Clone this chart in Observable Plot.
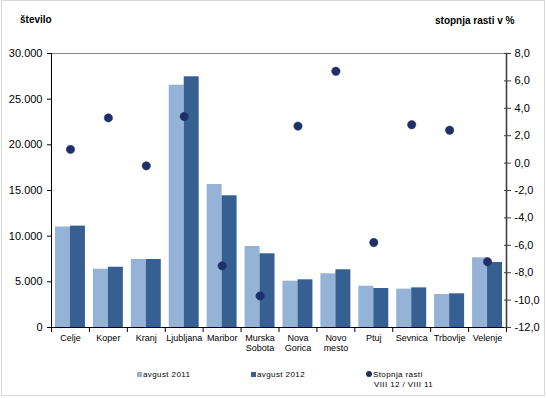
<!DOCTYPE html>
<html>
<head>
<meta charset="utf-8">
<script src="https://cdn.jsdelivr.net/npm/d3@7"></script>
<script src="https://cdn.jsdelivr.net/npm/@observablehq/plot@0.6"></script>
<style>
  body { margin: 0; background: #fff; font-family: "Liberation Sans", Arial, sans-serif; }
  #wrap { position: relative; width: 546px; height: 398px; overflow: hidden; }
  #border { position: absolute; left: 1px; top: 0px; width: 542px; height: 394px; border: 1px solid #d9d9d9; }
  .title { position: absolute; font-weight: bold; font-size: 10px; color: #000; white-space: nowrap; }
  .leg { position: absolute; font-size: 8px; letter-spacing: 0.4px; color: #000; white-space: nowrap; line-height: 10px; }
  .sw { display: inline-block; width: 5px; height: 5px; margin-right: 1px; vertical-align: 0px; }
  .dot { display: inline-block; width: 6px; height: 6px; border-radius: 50%; margin-right: 1px; vertical-align: 0px; }
  svg { position: absolute; left: 0; top: 0; }
</style>
</head>
<body>
<div id="wrap">
  <div id="border"></div>
  <div class="title" style="left:20px; top:14px;">število</div>
  <div class="title" style="left:435px; top:15px;">stopnja rasti v %</div>
  <div class="leg" style="left:137px; top:370px;"><span class="sw" style="background:#95b3d7"></span>avgust 2011</div>
  <div class="leg" style="left:251px; top:370px;"><span class="sw" style="background:#366092"></span>avgust 2012</div>
  <div class="leg" style="left:366px; top:370px;"><span class="dot" style="background:#1f3068"></span>Stopnja rasti<br><span style="padding-left:8px">VIII 12 / VIII 11</span></div>
</div>
<script>
const cities = ["Celje", "Koper", "Kranj", "Ljubljana", "Maribor", "Murska\nSobota", "Nova\nGorica", "Novo\nmesto", "Ptuj", "Sevnica", "Trbovlje", "Velenje"];
const avg2011 = [11000, 6380, 7450, 26530, 15660, 8870, 5070, 5880, 4520, 4200, 3610, 7630];
const avg2012 = [11100, 6600, 7450, 27450, 14420, 8070, 5220, 6320, 4270, 4340, 3690, 7120];
const growth = [1.0, 3.3, -0.2, 3.4, -7.5, -9.7, 2.7, 6.7, -5.8, 2.8, 2.4, -7.2];
const leftTicks = [0, 5000, 10000, 15000, 20000, 25000, 30000];
const rightTicks = [-12, -10, -8, -6, -4, -2, 0, 2, 4, 6, 8];

// secondary axis mapping: growth range [-12, 8] onto left range [0, 30000]
const gMin = -12, gMax = 8, yMax = 30000;
const toLeft = g => (g - gMin) / (gMax - gMin) * yMax;
const fromLeft = v => v / yMax * (gMax - gMin) + gMin;

const bars = cities.map((c, i) => ({city: c, a: avg2011[i], b: avg2012[i], g: growth[i]}));

const fmtLeft = v => d3.format(",")(v).replace(/,/g, ".");
const fmtRight = v => fromLeft(v).toFixed(1).replace(".", ",");

const W = 546, H = 398, mL = 51, mR = 40;
const step = (W - mL - mR) / cities.length;

const chart = Plot.plot({
  width: W,
  height: H,
  marginLeft: mL,
  marginRight: mR,
  marginTop: 53,
  marginBottom: 71,
  style: {fontFamily: "'Liberation Sans', Arial, sans-serif", background: "transparent", color: "#000"},
  x: {domain: cities, paddingInner: 0.21, paddingOuter: 0.105, round: false, label: null},
  y: {domain: [0, yMax], label: null},
  marks: [
    Plot.barY(bars, {x: "city", y: "a", fill: "#95b3d7", insetRight: step * 0.79 / 2, insetLeft: 0}),
    Plot.barY(bars, {x: "city", y: "b", fill: "#366092", insetLeft: step * 0.79 / 2, insetRight: 0}),
    Plot.frame({anchor: "top", stroke: "#868686"}),
    Plot.frame({anchor: "left", stroke: "#000"}),
    Plot.frame({anchor: "right", stroke: "#404040", strokeWidth: 1.6}),
    Plot.ruleY([0], {stroke: "#000"}),
    // category boundary ticks
    Plot.ruleX(cities, {x: d => d, y1: 0, y2: 0, dx: -step / 2, insetBottom: -5, stroke: "#000"}),
    Plot.ruleX([cities[cities.length - 1]], {x: d => d, y1: 0, y2: 0, dx: step / 2, insetBottom: -5, stroke: "#000"}),
    Plot.axisY({ticks: leftTicks, tickFormat: fmtLeft, tickSize: 4, tickPadding: 5, fontSize: 11, label: null}),
    Plot.axisY({anchor: "right", ticks: rightTicks.map(toLeft), tickFormat: fmtRight, tickSize: 4, tickPadding: 4, fontSize: 11, label: null, stroke: "#404040"}),
    Plot.axisY({anchor: "right", ticks: rightTicks.map(toLeft), tickFormat: () => "", tickSize: -3, label: null, stroke: "#404040"}),
    Plot.axisX({tickSize: 0, tickPadding: 6, fontSize: 9, lineHeight: 1.15, label: null}),
    Plot.dot(bars, {x: "city", y: d => toLeft(d.g), r: 4.2, fill: "#1f3068", stroke: "#1f3068", strokeWidth: 0.5})
  ]
});
document.getElementById("wrap").appendChild(chart);
</script>
</body>
</html>
